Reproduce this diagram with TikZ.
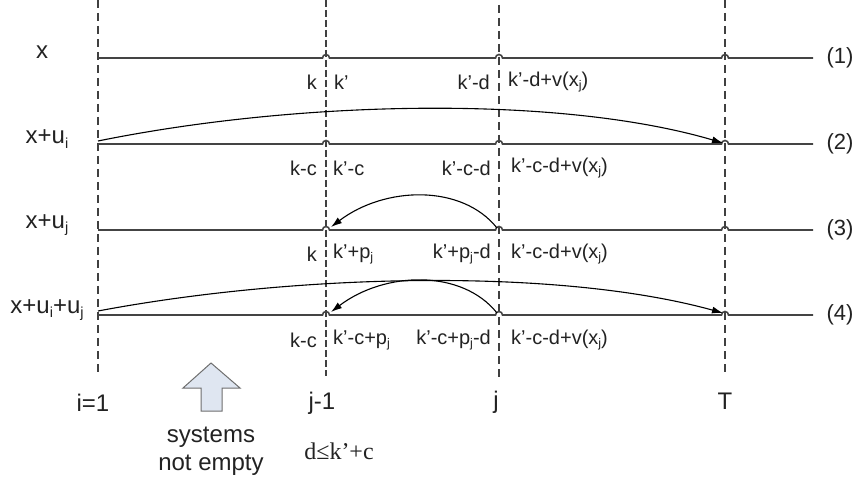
\documentclass[tikz,border=0pt]{standalone}
\usepackage{fontspec}
\setmainfont{Liberation Sans}
\newfontfamily\serifface{Liberation Serif}
\usetikzlibrary{arrows.meta}
\definecolor{linegray}{HTML}{444444}
\definecolor{dashgray}{HTML}{404040}
\definecolor{txtgray}{HTML}{222222}
\definecolor{boxfill}{HTML}{DFE6F1}
\definecolor{boxedge}{HTML}{6E6E6E}
\newcommand\sbs[1]{\raisebox{-0.35ex}{\fontsize{12.5}{12}\selectfont #1}}
\newcommand\sbl[1]{\raisebox{-0.35ex}{\fontsize{14.5}{14}\selectfont #1}}
\tikzset{
  vdash/.style={draw=dashgray,line width=1.1pt,dash pattern=on 8pt off 5pt},
  hline/.style={draw=linegray,line width=1.6pt},
  lbl/.style={inner sep=0pt,text=txtgray,font=\fontsize{20}{22}\selectfont},
  big/.style={lbl,font=\fontsize{24}{28}\selectfont},
  lblr/.style={lbl,anchor=east},
  lbll/.style={lbl,anchor=west},
  curv/.style={draw=black,line width=1.1pt,-{Latex[length=11pt,width=7pt]}}
}
\newcommand\jump{arc[start angle=180,end angle=0,radius=3.5pt]}
\begin{document}
\begin{tikzpicture}[x=1pt,y=-1pt]
\useasboundingbox (0,0) rectangle (860,481);
% vertical dashed lines
\coordinate (i1t) at (98,0);   \coordinate (i1b) at (98,376);
\coordinate (jmt) at (326,0);  \coordinate (jmb) at (326,376);
\coordinate (jt) at (499,5);   \coordinate (jb) at (499,380);
\coordinate (Tt) at (725,0);   \coordinate (Tb) at (725,376);
\draw[vdash] (i1t) -- (i1b);
\draw[vdash,dash pattern=on 7pt off 3pt] (jmt) -- (jmb);
\draw[vdash] (jt) -- (jb);
\draw[vdash] (Tt) -- (Tb);
% horizontal lines with jumps
\foreach \y/\n in {58/1,144/2,230/3,315/4}{
  \draw[hline] (98,\y) -- (322.5,\y) \jump -- (495.5,\y) \jump -- (721.5,\y) \jump -- (813,\y);
  \node[lbl,font=\fontsize{22}{24}\selectfont] (r\n) at (840,\y) {(\n)};
}
% left labels
\node[big] (lx) at (42,52) {x};
\node[big] (lxi) at (47,139) {x+u\sbl{i}};
\node[big] (lxj) at (47,225) {x+u\sbl{j}};
\node[big] (lxij) at (47,310) {x+u\sbl{i}+u\sbl{j}};
% row 1 labels
\node[lblr] (a1) at (317,82) {k};
\node[lbll] (b1) at (334,82) {k’};
\node[lblr] (c1) at (490,82) {k’-d};
\node[lbll] (d1) at (508,82) {k’-d+v(x\sbs{j})};
% row 2 labels
\node[lblr] (a2) at (317,168) {k-c};
\node[lbll] (b2) at (333,168) {k’-c};
\node[lblr] (c2) at (491,168) {k’-c-d};
\node[lbll] (d2) at (511,168) {k’-c-d+v(x\sbs{j})};
% row 3 labels
\node[lblr] (a3) at (317,254) {k};
\node[lbll] (b3) at (333,254) {k’+p\sbs{j}};
\node[lblr] (c3) at (491,254) {k’+p\sbs{j}-d};
\node[lbll] (d3) at (511,254) {k’-c-d+v(x\sbs{j})};
% row 4 labels
\node[lblr] (a4) at (317,340) {k-c};
\node[lbll] (b4) at (333,340) {k’-c+p\sbs{j}};
\node[lblr] (c4) at (491,340) {k’-c+p\sbs{j}-d};
\node[lbll] (d4) at (511,340) {k’-c-d+v(x\sbs{j})};
% bottom labels
\node[big] (bi) at (93,403) {i=1};
\node[big] (bjm) at (322,403) {j-1};
\node[big] (bj) at (496,402) {j};
\node[big] (bT) at (725,401) {T};
\node[big,font=\serifface\fontsize{24}{28}\selectfont] (cond) at (339,451) {d≤k’+c};
\node[big,align=center] (sys) at (211,451) {systems\\not empty};
% block arrow
\draw[fill=boxfill,draw=boxedge,line width=1pt,line join=miter]
  (211,363) -- (240,388) -- (222,388) -- (222,411) -- (201,411) -- (201,388) -- (183,388) -- cycle;
% curved arrows
\coordinate (s2) at (98,141);  \coordinate (e2) at (723,143);
\coordinate (s4) at (98,311);  \coordinate (e4) at (723,313);
\coordinate (s3) at (497,228); \coordinate (e3) at (331,227);
\coordinate (s5) at (497,313); \coordinate (e5) at (331,312);
\draw[curv] (s2) .. controls (300,100) and (560,95) .. (e2);
\draw[curv] (s4) .. controls (300,273) and (560,268) .. (e4);
\draw[curv] (s3) .. controls (462,184) and (385,186) .. (e3);
\draw[curv] (s5) .. controls (462,269) and (385,271) .. (e5);
\end{tikzpicture}
\end{document}
